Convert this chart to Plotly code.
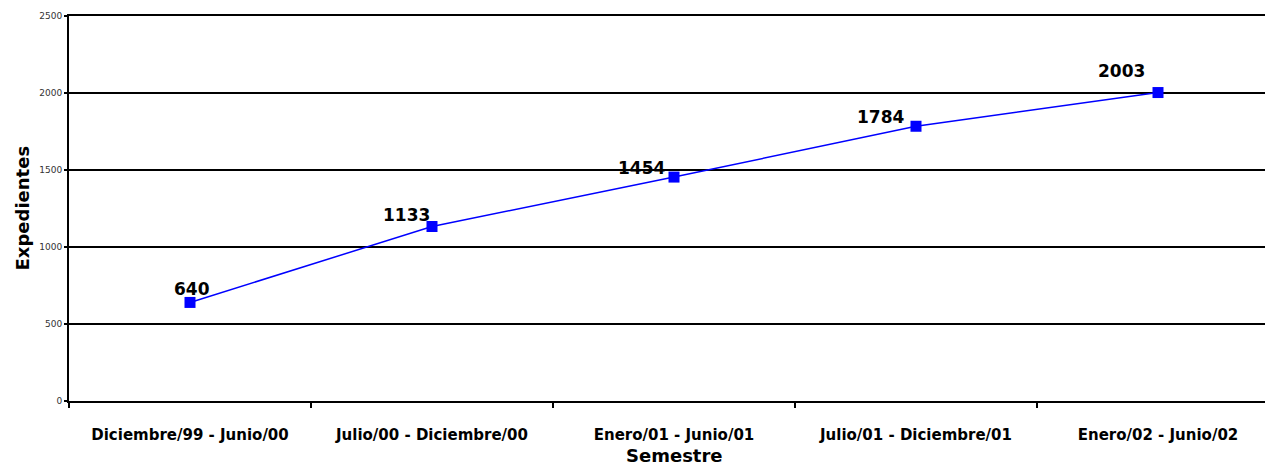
import plotly.graph_objects as go

categories = ["Diciembre/99 - Junio/00", "Julio/00 - Diciembre/00", "Enero/01 - Junio/01",
              "Julio/01 - Diciembre/01", "Enero/02 - Junio/02"]
values = [640, 1133, 1454, 1784, 2003]
y_ticks = [0, 500, 1000, 1500, 2000, 2500]

# label offsets (px) relative to each point
label_dx = [2, -26, -33, -36, -37]
label_dy = [13, 12, 9, 9, 22]

FONT = "DejaVu Sans"

fig = go.Figure()
fig.add_trace(go.Scatter(
    x=categories, y=values, mode="lines+markers",
    line=dict(color="#0000FF", width=1.5),
    marker=dict(symbol="square", size=11, color="#0000FF"),
    cliponaxis=False, showlegend=False,
))

for c, v, dx, dy in zip(categories, values, label_dx, label_dy):
    fig.add_annotation(x=c, y=v, text=f"<b>{v}</b>", showarrow=False,
                       xshift=dx, yshift=dy, xanchor="center", yanchor="middle",
                       font=dict(family=FONT, size=17, color="black"))

fig.add_annotation(xref="paper", yref="paper", x=0, y=0.5, xshift=-47,
                   text="<b>Expedientes</b>", textangle=-90, showarrow=False,
                   xanchor="center", yanchor="middle",
                   font=dict(family=FONT, size=18, color="black"))
fig.add_annotation(xref="paper", yref="paper", x=(674 - 69) / 1204, y=0, yshift=-67,
                   text="<b>Semestre</b>", showarrow=False,
                   xanchor="center", yanchor="bottom",
                   font=dict(family=FONT, size=18, color="black"))

fig.update_layout(
    width=1265, height=460,
    margin=dict(l=61, r=0, t=8, b=67),
    plot_bgcolor="white", paper_bgcolor="white",
    font=dict(family=FONT, color="black"),
    xaxis=dict(
        type="category", range=[-0.5, -0.5 + 1204 / 242],
        showline=True, linecolor="black", linewidth=2, mirror=True,
        ticks="outside", tickson="boundaries", ticklen=5, tickwidth=1.5, tickcolor="black",
        showgrid=False, zeroline=False,
        tickfont=dict(family=FONT, size=15, color="black", weight="bold"),
        ticklabelstandoff=19,
    ),
    yaxis=dict(
        range=[0, 2500], tickvals=y_ticks,
        showline=True, linecolor="black", linewidth=2,
        ticks="outside", ticklen=3, tickwidth=1.5, tickcolor="black",
        showgrid=True, gridcolor="black", gridwidth=1.5, zeroline=False,
        tickfont=dict(family=FONT, size=9, color="#333333"),
    ),
)

fig.write_html("out.html")
